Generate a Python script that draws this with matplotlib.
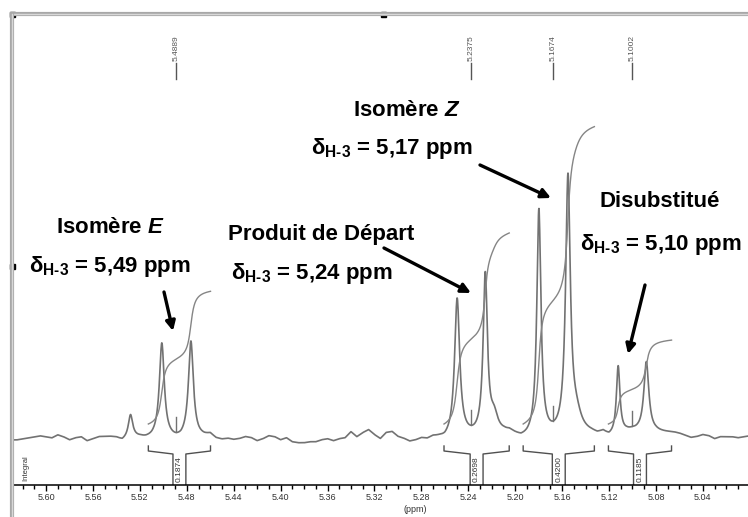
import numpy as np
import matplotlib.pyplot as plt
from matplotlib.lines import Line2D
from matplotlib.patches import Rectangle
from matplotlib.ticker import MultipleLocator, FormatStrFormatter

plt.rcParams['font.family'] = ['Liberation Sans', 'DejaVu Sans']
plt.rcParams['mathtext.fontset'] = 'custom'
plt.rcParams['mathtext.rm'] = 'Liberation Sans:bold'
plt.rcParams['mathtext.bf'] = 'Liberation Sans:bold'
plt.rcParams['mathtext.it'] = 'Liberation Sans:bold:italic'

W, H = 748, 517

# peaks: position (ppm), height, half width (ppm)
peak_ppm = [5.528, 5.5013, 5.4765, 5.2495, 5.2255, 5.218, 5.1798, 5.1550, 5.148, 5.1122, 5.0882]
peak_height = [23, 94, 96, 138, 160, 18, 226, 258, 15, 68, 72]
peak_width = [0.0022, 0.0025, 0.0025, 0.0026, 0.0022, 0.004, 0.0021, 0.0024, 0.005, 0.0018, 0.0026]

# baseline (noise) read every 0.005 ppm from 5.630 down to 5.000
base_start = 5.630
base_step = 0.005
baseline = [-2, -2, -1, 0, 1, 2, 1, 0, 3, 1, -2, 0, 1, -3, -1, 1, 1, 1, 0, -3,
            -1, 0, 0, -1, -1, 0, 0, -1, -2, -2, 0, 0, 0, 1, 3, -1, -2, -1, -2, -1,
            1, 0, -3, -1, 2, 1, -2, 0, -4, -5, -5, -4, -4, -2, -1, -3, -1, 0, 6, 1,
            5, 8, 3, -1, 5, 6, 1, -1, -4, -3, -1, -2, 0, -1, -3, -2, 0, 0, 0, 0,
            0, 0, 0, 1, 3, 4, 1, -2, -2, -1, 0, 0, 0, 0, 0, 0, 2, 3, 3, 3,
            2, 4, 0, 1, 3, 5, 6, 5, 3, 4, 5, 5, 5, 5, 4, 2, 0, 1, 3, 2,
            -1, 1, 1, 1, 0, 1, 2]

# integrals
int_hi = [5.5128, 5.2607, 5.1932, 5.1205]
int_lo = [5.4598, 5.2051, 5.1325, 5.0667]
int_values = [0.1874, 0.2698, 0.4200, 0.1185]
int_scale = 708
int_offset = 14

# peak picking labels
pick_ppm = [5.4889, 5.2375, 5.1674, 5.1002]

x_left, x_right = 5.6282, 5.0015
y_bottom, y_top = -47, 424

ppm = np.linspace(x_left, x_right, 3000)
base_ppm = base_start - base_step * np.arange(len(baseline))


def peaks_only(x):
    y = np.zeros_like(x)
    for p, h, w in zip(peak_ppm, peak_height, peak_width):
        y += h * w ** 2 / ((x - p) ** 2 + w ** 2)
    return y


def spectrum(x):
    return np.interp(x, base_ppm[::-1], np.array(baseline, float)[::-1]) + peaks_only(x)


fig = plt.figure(figsize=(W / 100, H / 100), dpi=100)
ax = fig.add_axes([13 / W, (H - 485) / H, (W - 13) / W, (485 - 14) / H])
ax.set_xlim(x_left, x_right)
ax.set_ylim(y_bottom, y_top)

gray = '#727272'
ax.plot(ppm, spectrum(ppm), color=gray, lw=1.2)

# integral curves and brackets
for hi, lo, val in zip(int_hi, int_lo, int_values):
    xs = np.linspace(hi, lo, 400)
    cum = np.cumsum(peaks_only(xs))
    cum = cum - cum[0]
    ax.plot(xs, int_offset + val * int_scale * cum / cum[-1], color='#858585', lw=1.0)
    c = (hi + lo) / 2
    hw = 0.0055
    ax.plot([hi, hi, c + hw, c + hw], [-8, -13, -16, y_bottom], color='#505050', lw=1.0)
    ax.plot([lo, lo, c - hw, c - hw], [-8, -13, -16, y_bottom], color='#505050', lw=1.0)
    ax.text(c, -31, f'{val:.4f}', rotation=90, ha='center', va='center',
            fontsize=6, color='#333333')

# peak picking marks
for p in pick_ppm:
    v = float(spectrum(np.array([p]))[0])
    ax.plot([p, p], [v, v + 15], color=gray, lw=1.0)
    ax.plot([p, p], [359, 375], color='#555555', lw=1.0)
    ax.text(p, 377, f'{p:.4f}', rotation=90, ha='center', va='bottom',
            fontsize=6, color='#555555')

for s in ['top', 'right', 'left']:
    ax.spines[s].set_visible(False)
ax.spines['bottom'].set_color('black')
ax.spines['bottom'].set_linewidth(1.1)
ax.yaxis.set_visible(False)
ax.xaxis.set_major_locator(MultipleLocator(0.04))
ax.xaxis.set_minor_locator(MultipleLocator(0.01))
ax.xaxis.set_major_formatter(FormatStrFormatter('%.2f'))
ax.tick_params(axis='x', which='major', length=4, width=1, pad=2,
               labelsize=6.5, labelcolor='#333333')
ax.tick_params(axis='x', which='minor', length=3, width=1)
ax.text(5.2855, -72, '(ppm)', ha='center', va='center', fontsize=6.5,
        color='#333333', clip_on=False)
ax.text(5.6175, -30, 'Integral', rotation=90, ha='center', va='center',
        fontsize=5.5, color='#333333')

# frame of the window
fig.add_artist(Line2D([12 / W, 1], [1 - 14 / H, 1 - 14 / H], color='#a8a8a8', lw=3))
fig.add_artist(Line2D([12 / W, 1], [1 - 14 / H, 1 - 14 / H], color='#d8d8d8', lw=1))
fig.add_artist(Line2D([12 / W, 12 / W], [0, 1 - 14 / H], color='#a8a8a8', lw=3))
fig.add_artist(Line2D([12 / W, 12 / W], [0, 1 - 14 / H], color='#d8d8d8', lw=1))
for hx, hy in [(12, 14), (383, 14), (12, 266)]:
    fig.add_artist(Rectangle(((hx - 2.5) / W, 1 - (hy + 2.5) / H), 5 / W, 5 / H,
                             color='black'))


def fp(x, y):
    return (x / W, 1 - y / H)


delta = '$\\mathrm{\\delta}_{\\text{H-3}}$'
labels = [
    ('Isomère $\\mathit{E}$', 110, 233),
    (delta + ' = 5,49 ppm', 110, 272),
    ('Produit de Départ', 321, 240),
    (delta + ' = 5,24 ppm', 312, 279),
    ('Isomère $\\mathit{Z}$', 407, 116),
    (delta + ' = 5,17 ppm', 392, 154),
    ('Disubstitué', 660, 207),
    (delta + ' = 5,10 ppm', 661, 250),
]
for t, x, y in labels:
    fig.text(*fp(x, y), t, ha='center', va='baseline', fontsize=16,
             fontweight='bold', color='black')

arrows = [((164, 292), (173, 331)), ((384, 248), (471, 293)),
          ((480, 165), (551, 198)), ((645, 285), (628, 354))]
for (x0, y0), (x1, y1) in arrows:
    ax.annotate('', xy=fp(x1, y1), xytext=fp(x0, y0), xycoords='figure fraction',
                textcoords='figure fraction',
                arrowprops=dict(arrowstyle='-|>', lw=2.4, color='black',
                                mutation_scale=14, shrinkA=0, shrinkB=0))

fig.savefig('out.png', dpi=100, facecolor='white')
